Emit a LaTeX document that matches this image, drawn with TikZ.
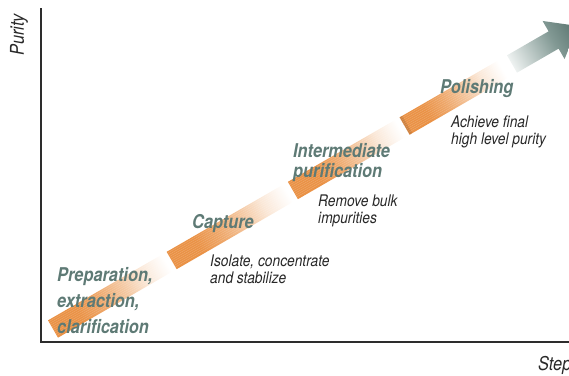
\documentclass[tikz,border=0pt]{standalone}
\usepackage{fontspec}
\setmainfont{TeX Gyre Heros}[FakeStretch=0.86]
\usetikzlibrary{positioning}
\definecolor{bandorange}{RGB}{234,146,70}
\definecolor{stagegreen}{RGB}{94,122,117}
\definecolor{notegrey}{RGB}{40,40,40}
\definecolor{axisgrey}{RGB}{45,45,45}
\definecolor{arrowlight}{RGB}{238,242,241}
\definecolor{arrowmid}{RGB}{130,153,148}
\definecolor{arrowdark}{RGB}{88,114,109}
\pgfdeclarehorizontalshading{bandfade}{100bp}{color(0bp)=(bandorange); color(25bp)=(bandorange); color(36bp)=(bandorange); color(45bp)=(bandorange!80); color(55bp)=(bandorange!50); color(63bp)=(bandorange!22); color(70bp)=(bandorange!6); color(73bp)=(white); color(100bp)=(white)}
\pgfdeclarehorizontalshading{arrowfade}{100bp}{color(0bp)=(arrowlight); color(25bp)=(arrowlight); color(56bp)=(arrowmid); color(75bp)=(arrowdark); color(100bp)=(arrowdark)}
\tikzset{
  stagetitle/.style={anchor=base west, align=left, inner sep=0pt, text=stagegreen,
    font=\fontsize{19}{21}\selectfont\bfseries\itshape},
  stagenote/.style={anchor=base west, align=left, inner sep=0pt, text=notegrey,
    font=\fontsize{16}{16.5}\selectfont\itshape},
  axislabel/.style={inner sep=0pt, text=notegrey, font=\fontsize{19}{21}\selectfont\itshape}
}

\begin{document}
\begin{tikzpicture}[x=1pt,y=-1pt]
  \useasboundingbox (0,0) rectangle (569,375);

  \newcommand\W{10}

  %% the band, drawn along its own axis
  \begin{scope}[transform canvas={shift={(53,329)},rotate=30}]
    \shade[shading=bandfade](0,-\W) rectangle (137,\W);
    \shade[shading=bandfade](137,-\W) rectangle (277,\W);
    \shade[shading=bandfade](277,-\W) rectangle (406,\W);
    \shade[shading=bandfade](406,-\W) rectangle (524,\W);
    \fill[bandorange!75!black, opacity=.45](406,-\W) rectangle (409,\W);
    \foreach \w in {-8.5,-6.5,...,8.5}
      \draw[white, opacity=.25, line width=.3pt](0,\w)--(524,\w);
    %% arrow at the end
    \shade[shading=arrowfade](530,-\W)--(578,-\W)--(578,-22)--(606,0)
      --(578,22)--(578,\W)--(530,\W)--cycle;
  \end{scope}

  %% axes
  \coordinate (ytop) at (41,8);
  \coordinate (origin) at (41,342);
  \coordinate (xend) at (569,342);
  \draw[axisgrey, line width=1.6pt](ytop)--(origin)--(xend);

  \node[axislabel, rotate=90] (purity) at (19,35) {Purity};
  \node[axislabel, anchor=base west] (steps) at (538,370) {Steps};

  %% stages (base = last line)
  \node[stagetitle, font=\fontsize{19}{26}\selectfont\bfseries\itshape] (prep) at (57,333)
    {Preparation,\\extraction,\\clarification};
  \node[stagetitle] (capture) at (192,228) {Capture};
  \node[stagenote] (capnote) at (210,283) {Isolate, concentrate\\and stabilize};
  \node[stagetitle, font=\fontsize{19}{20}\selectfont\bfseries\itshape] (inter) at (293,177)
    {Intermediate\\purification};
  \node[stagenote] (internote) at (318,223) {Remove bulk\\impurities};
  \node[stagetitle] (polish) at (440,93) {Polishing};
  \node[stagenote] (polishnote) at (451,144) {Achieve final\\high level purity};
\end{tikzpicture}
\end{document}
